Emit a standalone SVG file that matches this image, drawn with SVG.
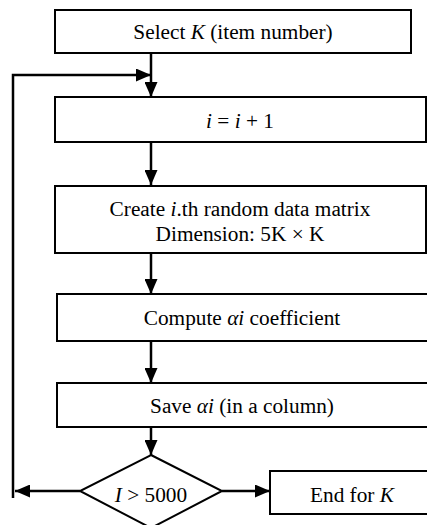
<svg xmlns="http://www.w3.org/2000/svg" width="427" height="525" viewBox="0 0 427 525">
<style>
.box{fill:#fff;stroke:#000;stroke-width:2}
.t{font-family:"Liberation Serif","Times New Roman",serif;font-size:21.3px;fill:#000;text-anchor:middle}
.c{fill:none;stroke:#000;stroke-width:2.5}
</style>
<defs>
<marker id="ah" viewBox="0 0 10 10" refX="10" refY="5" markerWidth="15" markerHeight="13" markerUnits="userSpaceOnUse" orient="auto" preserveAspectRatio="none">
<path d="M0,0 L10,5 L0,10 Z" fill="#000"/>
</marker>
</defs>
<rect width="427" height="525" fill="#fff"/>
<g id="connectors">
<path class="c" d="M151,53 V97" marker-end="url(#ah)"/>
<path class="c" d="M13,498 V75 H151" marker-end="url(#ah)"/>
<path class="c" d="M151,142 V185" marker-end="url(#ah)"/>
<path class="c" d="M151,253 V294" marker-end="url(#ah)"/>
<path class="c" d="M151,341 V383" marker-end="url(#ah)"/>
<path class="c" d="M151,427 V455" marker-end="url(#ah)"/>
<path class="c" d="M80,491 H15" marker-end="url(#ah)"/>
<path class="c" d="M222,491 H270" marker-end="url(#ah)"/>
</g>
<g id="select">
<rect class="box" x="55" y="10" width="356" height="43"/>
<text class="t" x="233" y="38.5">Select <tspan font-style="italic">K</tspan> (item number)</text>
</g>
<g id="increment">
<rect class="box" x="55" y="97" width="371" height="45"/>
<text class="t" x="240" y="128"><tspan font-style="italic">i</tspan> = <tspan font-style="italic">i</tspan> + 1</text>
</g>
<g id="create">
<rect class="box" x="55" y="186" width="371" height="67"/>
<text class="t" x="240" y="215.5">Create <tspan font-style="italic">i</tspan>.th random data matrix</text>
<text class="t" x="240" y="241">Dimension: 5K × K</text>
</g>
<g id="compute">
<rect class="box" x="57" y="294" width="380" height="47"/>
<text class="t" x="242" y="325">Compute <tspan font-style="italic">αi</tspan> coefficient</text>
</g>
<g id="save">
<rect class="box" x="57" y="383" width="380" height="44"/>
<text class="t" x="242" y="413">Save <tspan font-style="italic">αi</tspan> (in a column)</text>
</g>
<g id="decision">
<polygon class="box" points="151,455 222,491 151,528 80,491"/>
<text class="t" x="151" y="501.5"><tspan font-style="italic">I</tspan> &gt; 5000</text>
</g>
<g id="end">
<rect class="box" x="270" y="471" width="170" height="43"/>
<text class="t" x="352" y="501.5">End for <tspan font-style="italic">K</tspan></text>
</g>
</svg>
